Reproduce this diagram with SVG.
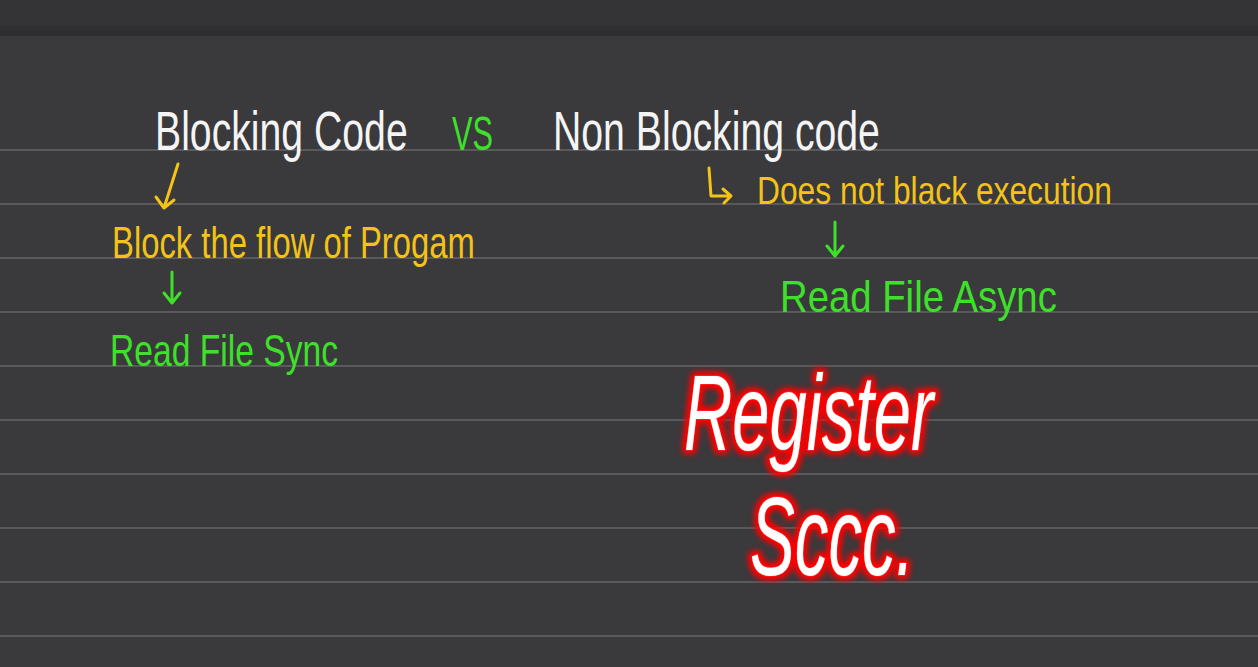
<svg xmlns="http://www.w3.org/2000/svg" width="1258" height="667" viewBox="0 0 1258 667">
<style>
.rule{stroke:#5a595c;stroke-width:2}
.hw{font-family:"Liberation Sans","DejaVu Sans",sans-serif;font-weight:normal}
.white{fill:#f4f4f4}
.yellow{fill:#f3c318}
.green{fill:#3ee02a}
.ya{stroke:#f3c318;stroke-width:3;fill:none;stroke-linecap:round;stroke-linejoin:round}
.ga{stroke:#3ee02a;stroke-width:3;fill:none;stroke-linecap:round;stroke-linejoin:round}
.neon{font-family:"Liberation Sans","DejaVu Sans",sans-serif;fill:#ffffff;stroke:#ff2020;stroke-width:1.5;paint-order:stroke}
</style>
<defs>
<filter id="glow" x="-20%" y="-30%" width="140%" height="160%">
<feMorphology in="SourceAlpha" operator="dilate" radius="2" result="d"/>
<feGaussianBlur in="d" stdDeviation="3" result="b"/>
<feFlood flood-color="#ff0000" result="c"/>
<feComposite in="c" in2="b" operator="in" result="g"/>
<feMerge><feMergeNode in="g"/><feMergeNode in="g"/><feMergeNode in="SourceGraphic"/></feMerge>
</filter>
</defs>
<rect x="0" y="0" width="1258" height="667" fill="#3a393c"/>
<rect x="0" y="0" width="1258" height="26" fill="#343336"/>
<rect x="0" y="26" width="1258" height="10" fill="#2f2e31"/>
<g id="rules">
<line class="rule" x1="0" y1="150" x2="1258" y2="150"/>
<line class="rule" x1="0" y1="204" x2="1258" y2="204"/>
<line class="rule" x1="0" y1="258" x2="1258" y2="258"/>
<line class="rule" x1="0" y1="312" x2="1258" y2="312"/>
<line class="rule" x1="0" y1="366" x2="1258" y2="366"/>
<line class="rule" x1="0" y1="420" x2="1258" y2="420"/>
<line class="rule" x1="0" y1="474" x2="1258" y2="474"/>
<line class="rule" x1="0" y1="528" x2="1258" y2="528"/>
<line class="rule" x1="0" y1="582" x2="1258" y2="582"/>
<line class="rule" x1="0" y1="636" x2="1258" y2="636"/>
</g>
<g id="title">
<text class="hw white" transform="translate(155,150) scale(0.7,1)" x="0" y="0" font-size="56" textLength="361" lengthAdjust="spacingAndGlyphs">Blocking Code</text>
<text class="hw green" transform="translate(452,150) scale(0.64,1)" x="0" y="0" font-size="48" textLength="64" lengthAdjust="spacingAndGlyphs">VS</text>
<text class="hw white" transform="translate(553,150) scale(0.7,1)" x="0" y="0" font-size="56" textLength="467" lengthAdjust="spacingAndGlyphs">Non Blocking code</text>
</g>
<g id="connectors">
<path class="ya" d="M178 164 L164 208 M156 197 L164 208 L174 200"/>
<path class="ga" d="M172 272 L172 302 M164 293 L172 303 L180 293"/>
<path class="ya" d="M709 168 L711 196 L730 196 M723 189 L731 196 L724 203"/>
<path class="ga" d="M835 222 L835 255 M827 246 L835 256 L843 246"/>
</g>
<g id="blocking">
<text class="hw yellow" transform="translate(112,258) scale(0.745,1)" x="0" y="0" font-size="44" textLength="487" lengthAdjust="spacingAndGlyphs">Block the flow of Progam</text>
<text class="hw green" transform="translate(110,366) scale(0.765,1)" x="0" y="0" font-size="44" textLength="298" lengthAdjust="spacingAndGlyphs">Read File Sync</text>
</g>
<g id="nonblocking">
<text class="hw yellow" transform="translate(757,204) scale(0.835,1)" x="0" y="0" font-size="38" textLength="425" lengthAdjust="spacingAndGlyphs">Does not black execution</text>
<text class="hw green" transform="translate(780,312) scale(0.865,1)" x="0" y="0" font-size="44" textLength="320" lengthAdjust="spacingAndGlyphs">Read File Async</text>
</g>
<g id="register" filter="url(#glow)">
<text class="neon" transform="translate(684,450) scale(0.62,1)" x="0" y="0" font-size="108" textLength="402" lengthAdjust="spacingAndGlyphs" font-style="italic">Register</text>
<text class="neon" transform="translate(750,575) scale(0.6,1)" x="0" y="0" font-size="112" textLength="274" lengthAdjust="spacingAndGlyphs" font-style="italic">Sccc.</text>
</g>
</svg>
